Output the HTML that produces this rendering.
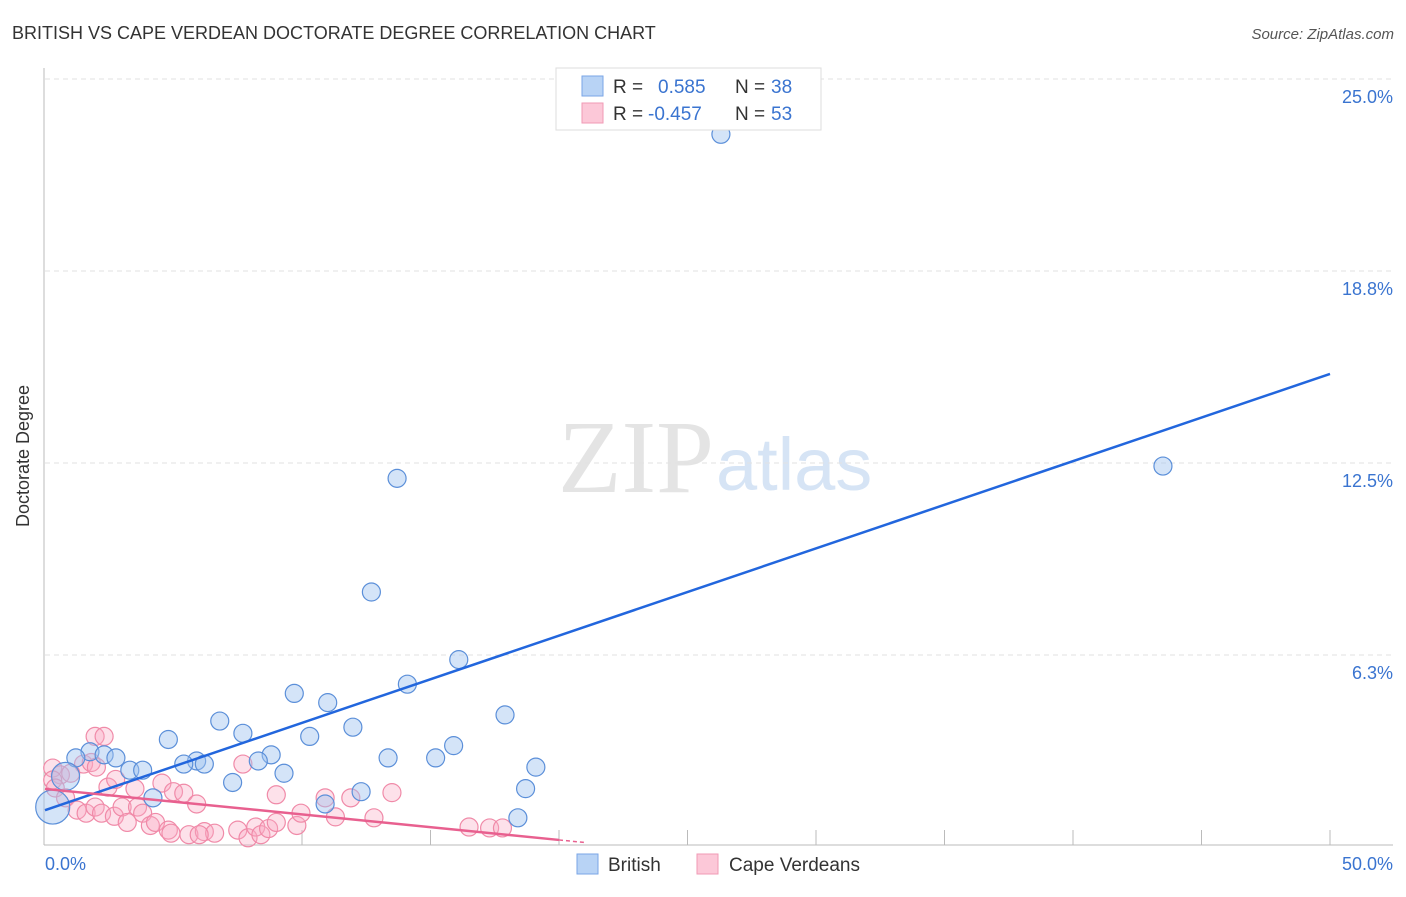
<!DOCTYPE html>
<html><head><meta charset="utf-8"><style>
body{margin:0;background:#fff;font-family:"Liberation Sans",sans-serif;}
</style></head><body>
<svg width="1406" height="892" xmlns="http://www.w3.org/2000/svg" style="font-family:'Liberation Sans',sans-serif">
<text x="12" y="39" font-size="18" fill="#333">BRITISH VS CAPE VERDEAN DOCTORATE DEGREE CORRELATION CHART</text>
<text x="1394" y="39" font-size="15" fill="#555" font-style="italic" text-anchor="end">Source: ZipAtlas.com</text>
<text x="714" y="492" font-size="104" fill="#e4e4e4" text-anchor="end" font-family="Liberation Serif">ZIP</text>
<text x="716" y="490" font-size="74" fill="#d6e4f5">atlas</text>
<g id="grid"></g>
<line x1="44" y1="68" x2="44" y2="845" stroke="#bbb"/>
<line x1="44" y1="845" x2="1393" y2="845" stroke="#bbb"/>
<g id="ticks"></g>
<text x="29" y="456" font-size="18" fill="#333" text-anchor="middle" transform="rotate(-90 29 456)">Doctorate Degree</text>
<text x="45" y="870" font-size="18" fill="#3a74d0">0.0%</text>
<text x="1393" y="870" font-size="18" fill="#3a74d0" text-anchor="end">50.0%</text>
<g id="pts"></g>
<g id="lines"></g>
<g>
<rect x="556" y="68" width="265" height="62" fill="#fff" stroke="#ddd"/>
<rect x="582" y="76" width="21" height="20" fill="#b8d3f5" stroke="#7aa6e6"/>
<rect x="582" y="103" width="21" height="20" fill="#fcc8d8" stroke="#f09ab5"/>
<text x="613" y="93" font-size="19" fill="#333">R = </text><text x="658" y="93" font-size="19" fill="#3a74d0">0.585</text>
<text x="735" y="93" font-size="19" fill="#333">N = </text><text x="771" y="93" font-size="19" fill="#3a74d0">38</text>
<text x="613" y="120" font-size="19" fill="#333">R = </text><text x="648" y="120" font-size="19" fill="#3a74d0">-0.457</text>
<text x="735" y="120" font-size="19" fill="#333">N = </text><text x="771" y="120" font-size="19" fill="#3a74d0">53</text>
</g>
<g>
<rect x="577" y="854" width="21" height="20" fill="#b8d3f5" stroke="#7aa6e6"/>
<text x="608" y="871" font-size="19" fill="#333">British</text>
<rect x="697" y="854" width="21" height="20" fill="#fcc8d8" stroke="#f09ab5"/>
<text x="729" y="871" font-size="19" fill="#333">Cape Verdeans</text>
</g>
</svg>
<script>
const yTicks=[25,18.75,12.5,6.25];
const yTickLabels=["25.0%","18.8%","12.5%","6.3%"];
const xTicks=[10,15,20,25,30,35,40,45,50];
const britX=[26.3,13.7,43.5,12.7,16.1,14.1,9.7,11.0,17.9,6.8,11.98,7.7,10.3,4.8,15.9,1.75,1.2,2.3,2.76,8.8,13.35,15.2,8.3,5.9,5.4,6.2,3.3,3.8,19.1,9.3,7.3,18.7,12.3,4.2,10.9,18.4,0.8,0.3];
const britY=[23.2,12.0,12.4,8.3,6.1,5.3,5.0,4.7,4.3,4.1,3.9,3.7,3.6,3.5,3.3,3.1,2.9,3.0,2.9,3.0,2.9,2.9,2.8,2.8,2.7,2.7,2.5,2.5,2.6,2.4,2.1,1.9,1.8,1.6,1.4,0.95,2.3,1.3];
const britR=[9,9,9,9,9,9,9,9,9,9,9,9,9,9,9,9,9,9,9,9,9,9,9,9,9,9,9,9,9,9,9,9,9,9,9,9,14,17];
const cvX=[1.95,2.3,1.5,1.8,0.3,0.6,0.3,0.4,0.8,1.25,1.6,1.95,2.2,2.45,2.75,2.7,3.0,3.2,3.6,3.8,4.1,4.3,4.55,5.0,5.4,5.9,4.8,4.9,5.6,6.2,6.6,7.5,7.7,7.9,8.2,8.4,8.7,9.0,9.0,9.8,9.96,10.9,11.3,11.9,12.8,13.5,16.5,17.3,17.8,1.0,2.0,3.5,6.0];
const cvY=[3.6,3.6,2.7,2.75,2.57,2.35,2.18,1.92,1.6,1.2,1.1,1.3,1.1,1.95,2.2,1.0,1.3,0.8,1.3,1.1,0.7,0.8,2.08,1.8,1.75,1.4,0.55,0.45,0.4,0.5,0.45,0.55,2.7,0.3,0.65,0.4,0.6,0.8,1.7,0.7,1.1,1.6,0.98,1.6,0.95,1.77,0.65,0.62,0.62,2.4,2.6,1.9,0.4];
const blueFit=[1.2,15.4];
const pinkFit=[1.89,-0.083];
const NS="http://www.w3.org/2000/svg";
const X=v=>45+v*25.7, Y=v=>847-v*30.72;
function mk(t,a,p){const e=document.createElementNS(NS,t);for(const k in a)e.setAttribute(k,a[k]);document.getElementById(p).appendChild(e);return e;}
yTicks.forEach((t,i)=>{
const l=mk('line',{x1:45,x2:1393,y1:Y(t),y2:Y(t),stroke:'#e2e2e2','stroke-dasharray':'5,4'},'grid');


const tx=mk('text',{x:1393,y:Y(t)+24,'font-size':18,fill:'#3a74d0','text-anchor':'end'},'grid');
tx.textContent=yTickLabels[i];


});
xTicks.forEach(t=>{
const l=mk('line',{x1:X(t),x2:X(t),y1:830,y2:845,stroke:'#bbb'},'ticks');


});
cvX.forEach((v,i)=>{
const c=mk('circle',{cx:X(v),cy:Y(cvY[i]),r:9,fill:'rgba(248,170,195,0.35)',stroke:'#f08aa8','stroke-width':1.2},'pts');


});
britX.forEach((v,i)=>{
const c=mk('circle',{cx:X(v),cy:Y(britY[i]),r:britR[i],fill:'rgba(160,196,240,0.45)',stroke:'#5b8fd9','stroke-width':1.2},'pts');


});
const bl=mk('line',{x1:X(0),y1:Y(blueFit[0]),x2:X(50),y2:Y(blueFit[1]),stroke:'#2266dd','stroke-width':2.5},'lines');


const pl=mk('line',{x1:X(0),y1:Y(pinkFit[0]),x2:X(20),y2:Y(pinkFit[0]+pinkFit[1]*20),stroke:'#e8608f','stroke-width':2.5},'lines');


const pd=mk('line',{x1:X(20),y1:Y(pinkFit[0]+pinkFit[1]*20),x2:X(21),y2:Y(pinkFit[0]+pinkFit[1]*21),stroke:'#e8608f','stroke-width':1.5,'stroke-dasharray':'4,3'},'lines');


</script>
</body></html>
